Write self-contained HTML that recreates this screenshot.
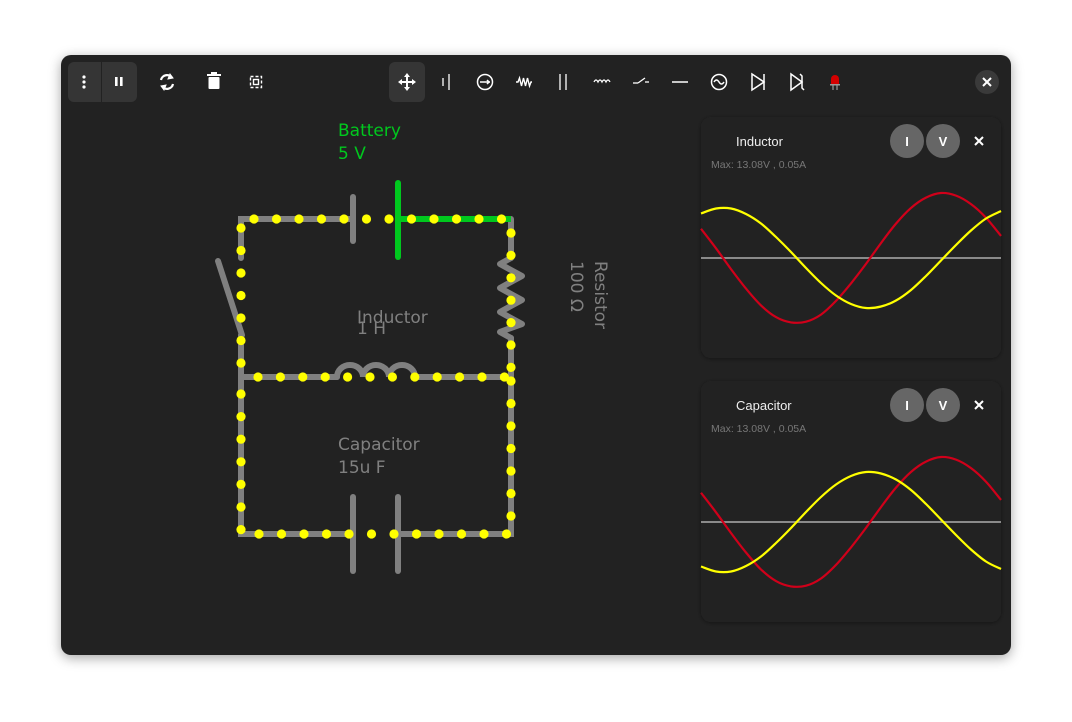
<!DOCTYPE html>
<html><head><meta charset="utf-8"><style>
body{margin:0;width:1072px;height:722px;background:#fff;overflow:hidden;font-family:"Liberation Sans","DejaVu Sans",sans-serif}
svg{position:absolute;left:0;top:0}
</style></head><body>
<svg width="1072" height="722" viewBox="0 0 1072 722">
<defs>
<filter id="sh" x="-10%" y="-10%" width="120%" height="130%"><feDropShadow dx="0" dy="3" stdDeviation="6" flood-color="#000" flood-opacity="0.35"/></filter>
<filter id="sh2" x="-10%" y="-10%" width="120%" height="120%"><feDropShadow dx="0" dy="1" stdDeviation="2" flood-color="#000" flood-opacity="0.4"/></filter>
</defs>
<rect x="61" y="55" width="950" height="600" rx="10" fill="#232323" filter="url(#sh)"/>
<!-- toolbar -->
<g>
<rect x="68" y="62" width="69" height="40" rx="6" fill="#353535"/>
<line x1="101.5" y1="62" x2="101.5" y2="102" stroke="#222" stroke-width="1"/>
<g fill="#fff"><circle cx="84" cy="77" r="1.6"/><circle cx="84" cy="82" r="1.6"/><circle cx="84" cy="87" r="1.6"/></g>
<g fill="#fff"><rect x="115" y="77" width="2.6" height="9"/><rect x="120" y="77" width="2.6" height="9"/></g>
<g fill="none" stroke="#fff" stroke-width="2.2"><path d="M161,80 A6,6 0 0 1 172,78"/><path d="M173,84 A6,6 0 0 1 162,86"/><path d="M170,74 L173,78 L168,79 Z" fill="#fff" stroke-width="1"/><path d="M164,90 L161,86 L166,85 Z" fill="#fff" stroke-width="1"/></g>
<g fill="#fff"><rect x="207" y="74" width="14" height="2"/><rect x="211" y="72" width="6" height="2"/><rect x="208.5" y="77" width="11" height="12" rx="1"/></g>
<g fill="none" stroke="#fff" stroke-width="1.4"><rect x="250.5" y="76.5" width="11" height="11" stroke-dasharray="3 2"/><rect x="253.5" y="79.5" width="5" height="5"/></g>
<rect x="389" y="62" width="36" height="40" rx="6" fill="#353535"/>
<g fill="#fff"><rect x="400" y="81" width="14" height="2"/><rect x="406" y="75" width="2" height="14"/><path d="M407,73 l3,4 h-6z M407,91 l3,-4 h-6z M398,82 l4,3 v-6z M416,82 l-4,3 v-6z"/></g>
<g stroke="#fff" stroke-width="1.3"><line x1="443" y1="78" x2="443" y2="86"/><line x1="449" y1="74" x2="449" y2="90"/></g>
<g stroke="#fff" stroke-width="1.5" fill="none"><circle cx="485" cy="82" r="7.5"/><line x1="480" y1="82" x2="490" y2="82"/><path d="M487,80 l2,2 l-2,2"/></g>
<path d="M516,82 l2,0 l1.5,-4 l2,8 l2,-8 l2,8 l2,-8 l2,8 l1.5,-4 l1,0" stroke="#fff" stroke-width="1.4" fill="none"/>
<g stroke="#fff" stroke-width="1.3"><line x1="560" y1="74" x2="560" y2="90"/><line x1="566" y1="74" x2="566" y2="90"/></g>
<path d="M594,82 q2,-4 4,0 q2,-4 4,0 q2,-4 4,0 q2,-4 4,0" stroke="#fff" stroke-width="1.3" fill="none"/>
<g stroke="#fff" stroke-width="1.3"><line x1="633" y1="83" x2="638" y2="83"/><line x1="638" y1="83" x2="645" y2="78"/><line x1="645" y1="82" x2="649" y2="82"/></g>
<line x1="672" y1="82" x2="688" y2="82" stroke="#fff" stroke-width="1.5"/>
<g stroke="#fff" stroke-width="1.5" fill="none"><circle cx="719" cy="82" r="7.5"/><path d="M714,82 q2.5,-4 5,0 q2.5,4 5,0"/></g>
<g stroke="#fff" stroke-width="1.5" fill="none"><path d="M752,74 L764,82 L752,90 Z"/><line x1="764" y1="74" x2="764" y2="90"/></g>
<g stroke="#fff" stroke-width="1.5" fill="none"><path d="M791,74 L802,82 L791,90 Z"/><path d="M800,74 L802,76 L802,88 L804,90"/></g>
<g><path d="M831,84 v-5 a4,4 0 0 1 8,0 v5 z" fill="#d40000"/><rect x="830" y="84" width="10" height="1.5" fill="#999"/><line x1="833" y1="85" x2="833" y2="90" stroke="#999" stroke-width="1.2"/><line x1="837" y1="85" x2="837" y2="90" stroke="#999" stroke-width="1.2"/></g>
<g><circle cx="987" cy="82" r="12" fill="#3a3a3a"/><path d="M983,78 l8,8 M991,78 l-8,8" stroke="#fff" stroke-width="2"/></g>
</g>
<!-- circuit -->
<g stroke-linecap="round" fill="none">
<g stroke="#808080" stroke-width="6">
<path d="M241,258 L241,219 L353,219"/>
<path d="M241,335 L241,534 L353,534"/>
<path d="M241,377 L337,377 M414,377 L511,377"/>
<path d="M511,219 L511,258 M511,338 L511,534 L398,534"/>
<line x1="218" y1="261" x2="242" y2="335"/>
<path d="M511,258 L500,264 L522,276 L500,288 L522,300 L500,312 L522,324 L500,332 L511,338" stroke-linejoin="round"/>
<path d="M337,377 a13,12 0 0 1 26,0 a13,12 0 0 1 26,0 a13,12 0 0 1 26,0"/>
<line x1="353" y1="197" x2="353" y2="241"/>
<line x1="353" y1="497" x2="353" y2="571"/>
<line x1="398" y1="497" x2="398" y2="571"/>
</g>
<g stroke="#00c81e" stroke-width="6">
<path d="M398,219 L511,219" stroke-linecap="butt"/>
<line x1="398" y1="183" x2="398" y2="257"/>
</g>
</g>
<g id="dots" fill="#ffff00"></g>
<g font-size="17" font-family="'DejaVu Sans', sans-serif">
<text x="338" y="136" fill="#00c81e">Battery</text>
<text x="338" y="159" fill="#00c81e">5 V</text>
<text x="357" y="323" fill="#808080">Inductor</text>
<text x="357" y="334" fill="#808080">1 H</text>
<text x="338" y="450" fill="#808080">Capacitor</text>
<text x="338" y="473" fill="#808080">15u F</text>
<text transform="translate(595,261) rotate(90)" fill="#808080">Resistor</text>
<text transform="translate(571,261) rotate(90)" fill="#808080">100 Ω</text>
</g>
<g id="panels"></g>
</svg>
<script>
// scope data (normalized, -1..1) sampled every 15px across the scope width
const sampleCount = 21;
const inductorVoltage = [0.89,0.99,0.99,0.88,0.69,0.42,0.12,-0.20,-0.50,-0.75,-0.92,-1.00,-0.97,-0.85,-0.64,-0.36,-0.05,0.26,0.55,0.79,0.94];
const inductorCurrent = [0.45,0.15,-0.17,-0.47,-0.73,-0.91,-0.99,-0.98,-0.87,-0.66,-0.39,-0.09,0.23,0.53,0.77,0.93,1.00,0.96,0.83,0.62,0.34];
const capacitorVoltage = [-0.89,-0.99,-0.99,-0.88,-0.69,-0.42,-0.12,0.20,0.50,0.75,0.92,1.00,0.97,0.85,0.64,0.36,0.05,-0.26,-0.55,-0.79,-0.94];
const capacitorCurrent = [0.45,0.15,-0.17,-0.47,-0.73,-0.91,-0.99,-0.98,-0.87,-0.66,-0.39,-0.09,0.23,0.53,0.77,0.93,1.00,0.96,0.83,0.62,0.34];
const panelTitles = ["Inductor","Capacitor"];
const maxTexts = ["Max: 13.08V , 0.05A","Max: 13.08V , 0.05A"];

const NS="http://www.w3.org/2000/svg";
function mk(tag,attrs,parent){const e=document.createElementNS(NS,tag);for(const k in attrs)e.setAttribute(k,attrs[k]);parent.appendChild(e);return e;}

// dots along wires
const dg=document.getElementById('dots');
const dotRows=[
 {x0:254,y0:219,dx:22.5,dy:0,n:12},
 {x0:241,y0:228,dx:0,dy:22.5,n:7},
 {x0:241,y0:394,dx:0,dy:22.6,n:7},
 {x0:258,y0:377,dx:22.4,dy:0,n:12},
 {x0:511,y0:233,dx:0,dy:22.4,n:7},
 {x0:511,y0:381,dx:0,dy:22.5,n:7},
 {x0:259,y0:534,dx:22.5,dy:0,n:12}
];
dotRows.forEach(r=>{for(let i=0;i<r.n;i++){const c=mk('circle',{cx:r.x0+r.dx*i,cy:r.y0+r.dy*i,r:4.6},dg);

}});

// scopes
const pg=document.getElementById('panels');
const plotX0=701, plotW=300;
function xScale(i){return plotX0+i*plotW/(sampleCount-1);}
function smooth(pts){let d='M'+pts[0][0]+','+pts[0][1];
 for(let i=0;i<pts.length-1;i++){const p0=pts[Math.max(0,i-1)],p1=pts[i],p2=pts[i+1],p3=pts[Math.min(pts.length-1,i+2)];
 d+=` C${(p1[0]+(p2[0]-p0[0])/6).toFixed(1)},${(p1[1]+(p2[1]-p0[1])/6).toFixed(1)} ${(p2[0]-(p3[0]-p1[0])/6).toFixed(1)},${(p2[1]-(p3[1]-p1[1])/6).toFixed(1)} ${p2[0].toFixed(1)},${p2[1].toFixed(1)}`;}
 return d;}
const series=[[inductorVoltage,inductorCurrent],[capacitorVoltage,capacitorCurrent]];
[117,381].forEach((top,k)=>{
 const g=mk('g',{},pg);
 
 
 mk('rect',{x:701,y:top,width:300,height:241,rx:10,fill:'#242424',filter:'url(#sh2)'},g);
 const t=mk('text',{x:736,y:top+29,fill:'#eee','font-size':13},g);t.textContent=panelTitles[k];
 
 
 const m=mk('text',{x:711,y:top+51,fill:'#777','font-size':10.5},g);m.textContent=maxTexts[k];
 
 
 ['I','V'].forEach((L,j)=>{const b=mk('g',{},g);
  
  
  mk('circle',{cx:907+j*36,cy:top+24,r:17,fill:'#666'},b);
  const tt=mk('text',{x:907+j*36,y:top+29,fill:'#fff','font-size':13,'font-weight':'bold','text-anchor':'middle'},b);tt.textContent=L;});
 const x=mk('path',{d:`M975,${top+20} l8,8 M983,${top+20} l-8,8`,stroke:'#fff','stroke-width':2},g);
 
 
 const mid=top+141;
 mk('line',{x1:701,y1:mid,x2:1001,y2:mid,stroke:'#8a8a8a','stroke-width':2},g);
 const yV=v=>mid-v*50, yI=v=>mid-v*65;
 const [vs,is]=series[k];
 const pv=vs.map((v,i)=>[xScale(i),yV(v)]), pi=is.map((v,i)=>[xScale(i),yI(v)]);
 const lc=mk('path',{d:smooth(pi),stroke:'#d0001a','stroke-width':2.2,fill:'none'},g);
 
 
 const lv=mk('path',{d:smooth(pv),stroke:'#ffff00','stroke-width':2.2,fill:'none'},g);
 
 
});
</script>
</body></html>
